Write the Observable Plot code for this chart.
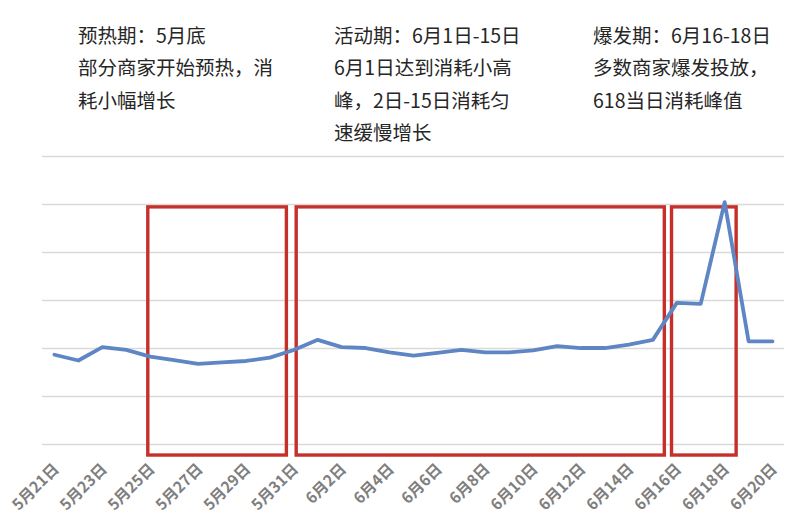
<!DOCTYPE html>
<html>
<head>
<meta charset="utf-8">
<script src="https://cdn.jsdelivr.net/npm/d3@7"></script>
<script src="https://cdn.jsdelivr.net/npm/@observablehq/plot@0.6"></script>
<style>
  html, body { margin: 0; padding: 0; background: #fff; }
  #wrap { width: 800px; height: 528px; position: relative; overflow: hidden; background: #fff; }
  #header { position: relative; width: 800px; height: 150px; }
  .note { position: absolute; top: 19px; font-family: "Noto Sans CJK SC", "Noto Sans", sans-serif;
          font-size: 19.5px; line-height: 32.4px; color: #262626; white-space: nowrap; }
  #chart svg { display: block; }
</style>
</head>
<body>
<div id="wrap">
  <div id="header"></div>
  <div id="chart"></div>
</div>
<script>
// Day labels (x categories)
const dates = [
  "5月21日","5月22日","5月23日","5月24日","5月25日","5月26日","5月27日","5月28日","5月29日","5月30日","5月31日",
  "6月1日","6月2日","6月3日","6月4日","6月5日","6月6日","6月7日","6月8日","6月9日","6月10日",
  "6月11日","6月12日","6月13日","6月14日","6月15日","6月16日","6月17日","6月18日","6月19日","6月20日"
];
// Consumption (relative units)
const values = [
  1.87, 1.75, 2.03, 1.97, 1.83, 1.76, 1.68, 1.71, 1.74, 1.81, 1.97,
  2.18, 2.03, 2.01, 1.92, 1.85, 1.91, 1.97, 1.92, 1.92, 1.96,
  2.05, 2.01, 2.01, 2.08, 2.18, 2.95, 2.93, 5.05, 2.15, 2.15
];
// Grid values
const gridValues = [0, 1, 2, 3, 4, 5, 6];
// Tick positions (every other day, by index)
const tickIndex = d3.range(0, 31, 2);
// Highlighted periods (in day-index units)
const periodStart = [3.92, 10.12, 25.8];
const periodEnd = [9.71, 25.5, 28.5];
const periodLow = [-0.23, -0.23, -0.23];
const periodHigh = [4.94, 4.94, 4.94];
// Annotations
const noteLines = [
  ["预热期：5月底", "部分商家开始预热，消", "耗小幅增长"],
  ["活动期：6月1日-15日", "6月1日达到消耗小高", "峰，2日-15日消耗匀", "速缓慢增长"],
  ["爆发期：6月16-18日", "多数商家爆发投放，", "618当日消耗峰值"]
];
const noteLeft = [78, 334, 593];

const header = document.getElementById("header");
noteLines.forEach((lines, i) => {
  const d = document.createElement("div");
  d.className = "note";
  d.style.left = noteLeft[i] + "px";
  d.innerHTML = lines.join("<br>");
  header.appendChild(d);
});

const periods = periodStart.map((s, i) => ({x1: s, x2: periodEnd[i], y1: periodLow[i], y2: periodHigh[i]}));
const series = values.map((v, i) => ({i, v}));

const chart = Plot.plot({
  width: 800,
  height: 378,
  marginLeft: 42,
  marginRight: 16,
  marginTop: 6,
  marginBottom: 84,
  style: {background: "#fff", fontFamily: "'Noto Sans CJK SC', 'Noto Sans', sans-serif"},
  x: {domain: [-0.5, 30.5], axis: null},
  y: {domain: [0, 6], axis: null},
  marks: [
    Plot.ruleY(gridValues, {stroke: "#d9d9d9", strokeWidth: 1.5}),
    Plot.rect(periods, {x1: "x1", x2: "x2", y1: "y1", y2: "y2", fill: "none", stroke: "#c6302b", strokeWidth: 3.4}),
    Plot.line(series, {x: "i", y: "v", stroke: "#5f86c4", strokeWidth: 3.8, strokeLinejoin: "round"}),
    Plot.text(tickIndex, {
      x: d => d, frameAnchor: "bottom", text: d => dates[d],
      rotate: -45, textAnchor: "end", lineAnchor: "middle",
      dx: 2, dy: 22, fontSize: 15.5, fontWeight: "bold", fill: "#7f7f7f"
    })
  ]
});
document.getElementById("chart").appendChild(chart);
</script>
</body>
</html>
